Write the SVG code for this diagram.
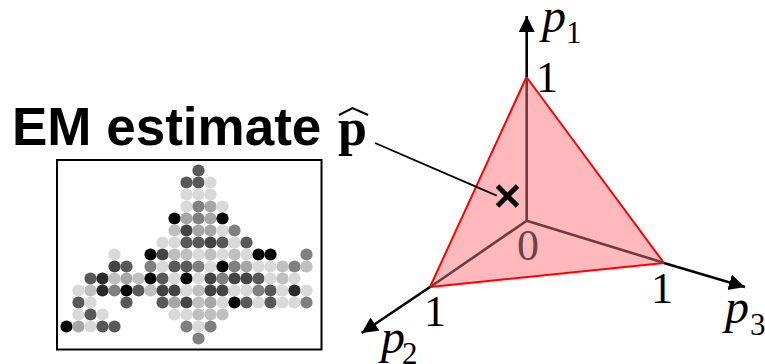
<svg xmlns="http://www.w3.org/2000/svg" width="765" height="364" viewBox="0 0 765 364">
<style>
.a{fill:#000}.b{fill:#2a2a2a}.c{fill:#444}.d{fill:#595959}.e{fill:#808080}.f{fill:#a6a6a6}.g{fill:#bfbfbf}.h{fill:#d9d9d9}
.s{font-family:"Liberation Serif","Times New Roman",serif;font-size:44px;fill:#000}
.i{font-family:"Liberation Serif","Times New Roman",serif;font-size:48px;font-style:italic;fill:#000}
.u{font-family:"Liberation Serif","Times New Roman",serif;font-size:31px;fill:#000}
.ax{stroke:#000;stroke-width:2.6;fill:none}
</style>
<defs>
<marker id="ah" markerUnits="userSpaceOnUse" markerWidth="18" markerHeight="18" refX="16" refY="8" orient="auto"><path d="M0 0L16 8L0 16Z" fill="#000"/></marker>
<circle id="o" r="6.1"/>
</defs>
<g id="em-label">
<text x="12" y="145" font-family="'Liberation Sans',Arial,sans-serif" font-size="53" font-weight="700" fill="#000">EM estimate</text>
<text x="338" y="145" font-family="'Liberation Serif','Times New Roman',serif" font-size="52" font-weight="700" fill="#000">p</text>
<path d="M339 115L352.500 108L368 115" fill="none" stroke="#000" stroke-width="2"/>
</g>
<g id="dot-plot">
<rect x="57" y="160" width="264.500" height="189.500" fill="#fff" stroke="#000" stroke-width="2"/>
<g transform="translate(66.500 170.500)">
<use href="#o" x="132" y="0" class="d"/>
<use href="#o" x="120" y="12" class="d"/><use href="#o" x="132" y="12" class="d"/><use href="#o" x="144" y="12" class="h"/>
<use href="#o" x="120" y="24" class="h"/><use href="#o" x="132" y="24" class="h"/><use href="#o" x="144" y="24" class="h"/>
<use href="#o" x="120" y="36" class="h"/><use href="#o" x="132" y="36" class="e"/><use href="#o" x="144" y="36" class="f"/><use href="#o" x="156" y="36" class="h"/>
<use href="#o" x="108" y="48" class="a"/><use href="#o" x="120" y="48" class="f"/><use href="#o" x="132" y="48" class="e"/><use href="#o" x="144" y="48" class="f"/><use href="#o" x="156" y="48" class="a"/>
<use href="#o" x="108" y="60" class="g"/><use href="#o" x="120" y="60" class="c"/><use href="#o" x="132" y="60" class="f"/><use href="#o" x="144" y="60" class="f"/><use href="#o" x="156" y="60" class="h"/><use href="#o" x="168" y="60" class="e"/>
<use href="#o" x="96" y="72" class="h"/><use href="#o" x="108" y="72" class="h"/><use href="#o" x="120" y="72" class="d"/><use href="#o" x="132" y="72" class="d"/><use href="#o" x="144" y="72" class="c"/><use href="#o" x="156" y="72" class="d"/><use href="#o" x="168" y="72" class="h"/><use href="#o" x="180" y="72" class="d"/>
<use href="#o" x="48" y="84" class="h"/><use href="#o" x="84" y="84" class="a"/><use href="#o" x="96" y="84" class="c"/><use href="#o" x="108" y="84" class="g"/><use href="#o" x="120" y="84" class="g"/><use href="#o" x="132" y="84" class="h"/><use href="#o" x="144" y="84" class="g"/><use href="#o" x="156" y="84" class="h"/><use href="#o" x="168" y="84" class="g"/><use href="#o" x="180" y="84" class="h"/><use href="#o" x="192" y="84" class="a"/><use href="#o" x="204" y="84" class="a"/><use href="#o" x="240" y="84" class="e"/>
<use href="#o" x="48" y="96" class="c"/><use href="#o" x="60" y="96" class="d"/><use href="#o" x="84" y="96" class="e"/><use href="#o" x="96" y="96" class="h"/><use href="#o" x="108" y="96" class="d"/><use href="#o" x="120" y="96" class="d"/><use href="#o" x="132" y="96" class="e"/><use href="#o" x="144" y="96" class="h"/><use href="#o" x="156" y="96" class="a"/><use href="#o" x="168" y="96" class="e"/><use href="#o" x="180" y="96" class="f"/><use href="#o" x="192" y="96" class="h"/><use href="#o" x="204" y="96" class="h"/><use href="#o" x="216" y="96" class="g"/><use href="#o" x="228" y="96" class="e"/><use href="#o" x="240" y="96" class="g"/>
<use href="#o" x="24" y="108" class="d"/><use href="#o" x="36" y="108" class="b"/><use href="#o" x="48" y="108" class="g"/><use href="#o" x="60" y="108" class="f"/><use href="#o" x="72" y="108" class="g"/><use href="#o" x="84" y="108" class="a"/><use href="#o" x="96" y="108" class="d"/><use href="#o" x="108" y="108" class="h"/><use href="#o" x="120" y="108" class="a"/><use href="#o" x="132" y="108" class="h"/><use href="#o" x="144" y="108" class="c"/><use href="#o" x="156" y="108" class="e"/><use href="#o" x="168" y="108" class="c"/><use href="#o" x="180" y="108" class="c"/><use href="#o" x="192" y="108" class="d"/><use href="#o" x="204" y="108" class="h"/><use href="#o" x="216" y="108" class="g"/><use href="#o" x="228" y="108" class="h"/>
<use href="#o" x="12" y="120" class="h"/><use href="#o" x="24" y="120" class="g"/><use href="#o" x="36" y="120" class="b"/><use href="#o" x="48" y="120" class="e"/><use href="#o" x="60" y="120" class="a"/><use href="#o" x="72" y="120" class="d"/><use href="#o" x="84" y="120" class="g"/><use href="#o" x="96" y="120" class="c"/><use href="#o" x="108" y="120" class="c"/><use href="#o" x="120" y="120" class="h"/><use href="#o" x="132" y="120" class="g"/><use href="#o" x="144" y="120" class="c"/><use href="#o" x="156" y="120" class="c"/><use href="#o" x="168" y="120" class="h"/><use href="#o" x="180" y="120" class="h"/><use href="#o" x="192" y="120" class="e"/><use href="#o" x="204" y="120" class="d"/><use href="#o" x="216" y="120" class="h"/><use href="#o" x="228" y="120" class="b"/><use href="#o" x="240" y="120" class="h"/>
<use href="#o" x="12" y="132" class="d"/><use href="#o" x="24" y="132" class="h"/><use href="#o" x="60" y="132" class="d"/><use href="#o" x="96" y="132" class="d"/><use href="#o" x="108" y="132" class="f"/><use href="#o" x="120" y="132" class="c"/><use href="#o" x="132" y="132" class="g"/><use href="#o" x="144" y="132" class="f"/><use href="#o" x="156" y="132" class="h"/><use href="#o" x="168" y="132" class="a"/><use href="#o" x="180" y="132" class="d"/><use href="#o" x="192" y="132" class="h"/><use href="#o" x="204" y="132" class="d"/><use href="#o" x="216" y="132" class="h"/><use href="#o" x="228" y="132" class="h"/><use href="#o" x="240" y="132" class="e"/>
<use href="#o" x="12" y="144" class="h"/><use href="#o" x="24" y="144" class="d"/><use href="#o" x="36" y="144" class="h"/><use href="#o" x="108" y="144" class="h"/><use href="#o" x="120" y="144" class="h"/><use href="#o" x="132" y="144" class="g"/><use href="#o" x="144" y="144" class="g"/><use href="#o" x="156" y="144" class="g"/>
<use href="#o" x="0" y="156" class="a"/><use href="#o" x="12" y="156" class="f"/><use href="#o" x="24" y="156" class="h"/><use href="#o" x="36" y="156" class="d"/><use href="#o" x="48" y="156" class="d"/><use href="#o" x="120" y="156" class="e"/><use href="#o" x="132" y="156" class="h"/><use href="#o" x="144" y="156" class="e"/>
<use href="#o" x="132" y="168" class="e"/>
</g>
</g>
<g id="simplex">
<path d="M526.500 77L430 287L664 263Z" fill="#ffb9bc" stroke="#f00" stroke-width="2" stroke-linejoin="round"/>
</g>
<g id="connectors">
<path class="ax" d="M526.700 77V16" marker-end="url(#ah)"/>
<path class="ax" d="M430 287L361.700 333" marker-end="url(#ah)"/>
<path class="ax" d="M664 263L745 287" marker-end="url(#ah)"/>
<path d="M526.700 78V220.700M526.700 220.700L431 286.500M526.700 220.700L663 262.500" fill="none" stroke="#6e3c40" stroke-width="2.600"/>
<path d="M375 143L496.700 195.700" fill="none" stroke="#000" stroke-width="1.800"/>
</g>
<g id="estimate-mark">
<path d="M497.500 186L517.500 206M517.500 186L497.500 206" fill="none" stroke="#000" stroke-width="5"/>
</g>
<g id="labels">
<text class="i" x="542" y="32">p</text><text class="u" x="566" y="43">1</text>
<text class="s" x="536" y="92">1</text>
<text class="s" x="517" y="260" style="fill:#6e4044">0</text>
<text class="s" x="424" y="326">1</text>
<text class="s" x="651" y="303">1</text>
<text class="i" x="725" y="323">p</text><text class="u" x="750" y="335">3</text>
<text class="i" x="381" y="353">p</text><text class="u" x="402" y="364">2</text>
</g>
</svg>
